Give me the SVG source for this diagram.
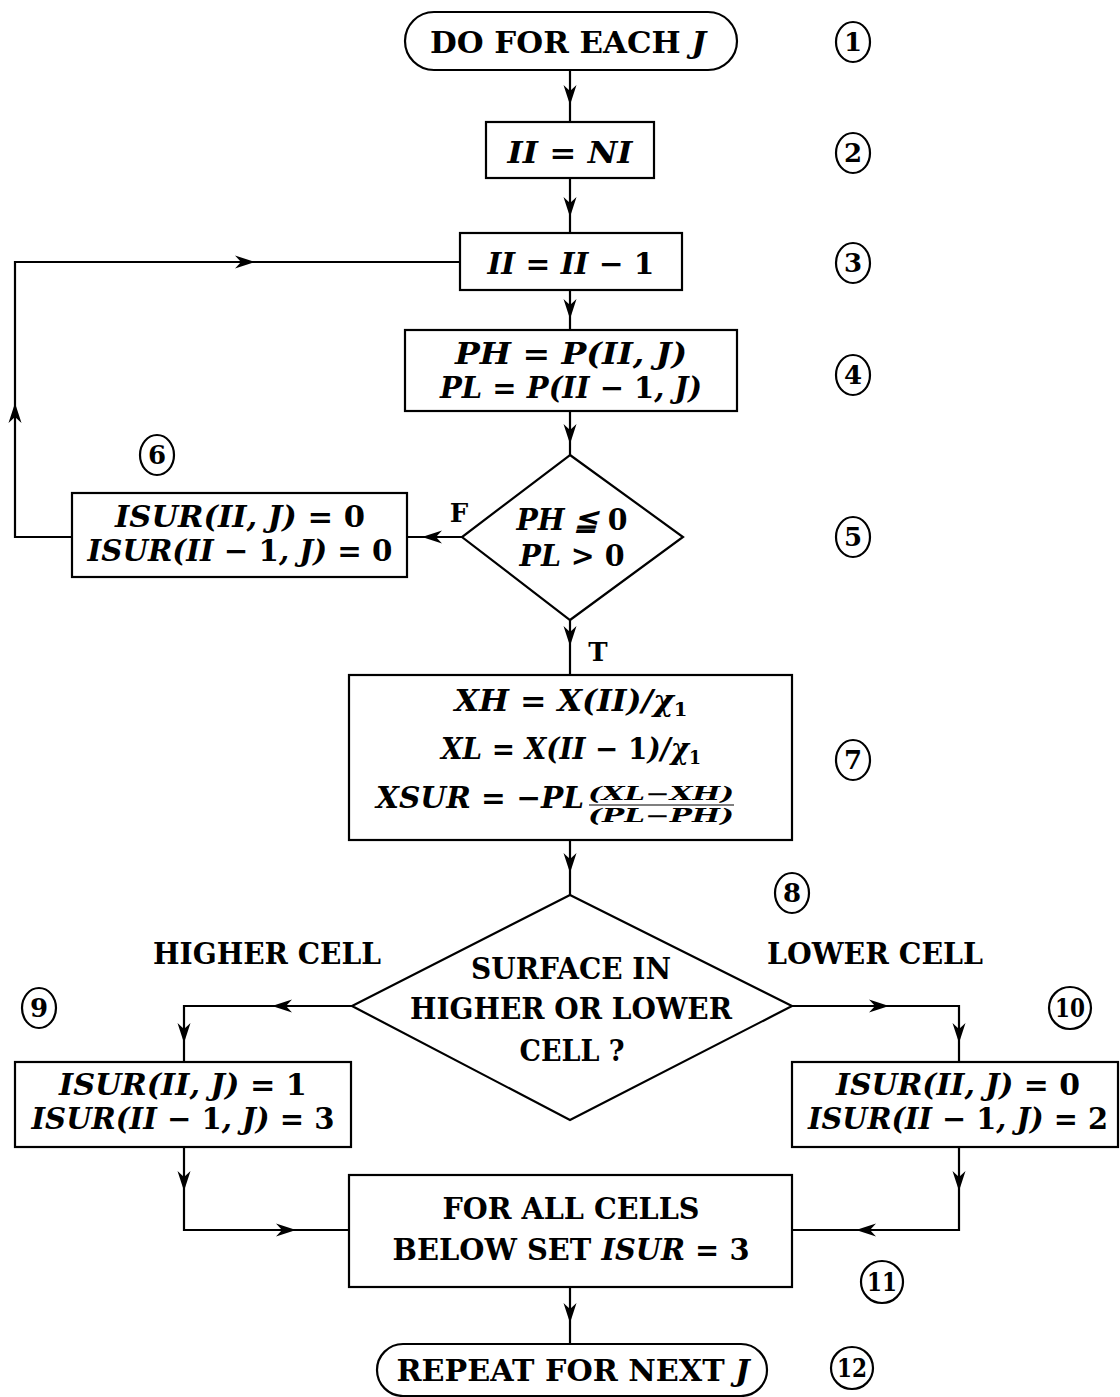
<svg xmlns="http://www.w3.org/2000/svg" width="1120" height="1397" viewBox="0 0 1120 1397">
<style>
.box{fill:#fff;stroke:#000;stroke-width:2.2}
.ln{fill:none;stroke:#000;stroke-width:2.2}
.t{font-family:"DejaVu Serif","Liberation Serif",serif;font-weight:bold;font-size:29px;text-anchor:middle;fill:#000}
.i{font-style:italic}
.u{font-style:normal}
.sm{font-size:18px}
.n ellipse{fill:none;stroke:#000;stroke-width:2.2}
.n text{font-family:"DejaVu Serif","Liberation Serif",serif;font-weight:bold;font-size:26px;text-anchor:middle}
</style>
<defs>
<path id="ah" d="M0,0 L-20,-6.5 L-14,0 L-20,6.5 Z" fill="#000"/>
</defs>
<g id="connectors">
<path class="ln" d="M570,70 V122"/>
<use href="#ah" transform="translate(570,105) rotate(90)"/>
<path class="ln" d="M570,178 V233"/>
<use href="#ah" transform="translate(570,217) rotate(90)"/>
<path class="ln" d="M570,290 V330"/>
<use href="#ah" transform="translate(570,319) rotate(90)"/>
<path class="ln" d="M570,411 V455"/>
<use href="#ah" transform="translate(570,444) rotate(90)"/>
<path class="ln" d="M462,537 H407"/>
<use href="#ah" transform="translate(422,537) rotate(180)"/>
<path class="ln" d="M72,537 H15 V262 H460"/>
<use href="#ah" transform="translate(15,403) rotate(-90)"/>
<use href="#ah" transform="translate(255,262)"/>
<path class="ln" d="M570,620 V675"/>
<use href="#ah" transform="translate(570,646) rotate(90)"/>
<path class="ln" d="M570,840 V895"/>
<use href="#ah" transform="translate(570,873) rotate(90)"/>
<path class="ln" d="M352,1006 H184 V1062"/>
<use href="#ah" transform="translate(272,1006) rotate(180)"/>
<use href="#ah" transform="translate(184,1043) rotate(90)"/>
<path class="ln" d="M792,1006 H959 V1062"/>
<use href="#ah" transform="translate(889,1006)"/>
<use href="#ah" transform="translate(959,1043) rotate(90)"/>
<path class="ln" d="M184,1147 V1230 H349"/>
<use href="#ah" transform="translate(184,1191) rotate(90)"/>
<use href="#ah" transform="translate(296,1230)"/>
<path class="ln" d="M959,1147 V1230 H792"/>
<use href="#ah" transform="translate(959,1191) rotate(90)"/>
<use href="#ah" transform="translate(856,1230) rotate(180)"/>
<path class="ln" d="M570,1287 V1344"/>
<use href="#ah" transform="translate(570,1323) rotate(90)"/>
</g>
<g id="n1"><rect class="box" x="405" y="12" width="332" height="58" rx="29"/>
<text class="t" x="568" y="53" textLength="276" lengthAdjust="spacingAndGlyphs">DO FOR EACH <tspan class="i">J</tspan></text></g>
<g id="n2"><rect class="box" x="486" y="122" width="168" height="56"/>
<text class="t i" x="570" y="163" textLength="125" lengthAdjust="spacingAndGlyphs">II = NI</text></g>
<g id="n3"><rect class="box" x="460" y="233" width="222" height="57"/>
<text class="t i" x="571" y="274" textLength="167" lengthAdjust="spacingAndGlyphs">II = II − <tspan class="u">1</tspan></text></g>
<g id="n4"><rect class="box" x="405" y="330" width="332" height="81"/>
<text class="t i" x="571" y="364" textLength="232" lengthAdjust="spacingAndGlyphs">PH = P(II, J)</text>
<text class="t i" x="571" y="398" textLength="262" lengthAdjust="spacingAndGlyphs">PL = P(II − <tspan class="u">1</tspan>, J)</text></g>
<g id="n5"><path class="box" d="M570,455 L683,537 L570,620 L462,537 Z"/>
<text class="t i" x="572" y="530" textLength="111" lengthAdjust="spacingAndGlyphs">PH ≦ <tspan class="u">0</tspan></text>
<text class="t i" x="572" y="566" textLength="105" lengthAdjust="spacingAndGlyphs">PL &gt; <tspan class="u">0</tspan></text>
<text class="t" x="459" y="522" style="font-size:26px">F</text>
<text class="t" x="598" y="661" style="font-size:26px">T</text></g>
<g id="n6"><rect class="box" x="72" y="493" width="335" height="84"/>
<text class="t i" x="240" y="527" textLength="250" lengthAdjust="spacingAndGlyphs">ISUR(II, J) = <tspan class="u">0</tspan></text>
<text class="t i" x="240" y="561" textLength="305" lengthAdjust="spacingAndGlyphs">ISUR(II − <tspan class="u">1</tspan>, J) = <tspan class="u">0</tspan></text></g>
<g id="n7"><rect class="box" x="349" y="675" width="443" height="165"/>
<text class="t i" x="571" y="711" textLength="233" lengthAdjust="spacingAndGlyphs">XH = X(II)/χ<tspan class="u sm" dy="5">1</tspan></text>
<text class="t i" x="571" y="759" textLength="260" lengthAdjust="spacingAndGlyphs">XL = X(II − <tspan class="u">1</tspan>)/χ<tspan class="u sm" dy="5">1</tspan></text>
<text class="t i" x="376" y="808" style="text-anchor:start" textLength="208" lengthAdjust="spacingAndGlyphs">XSUR = −PL</text>
<text class="t i sm" x="661" y="800" textLength="146" lengthAdjust="spacingAndGlyphs">(XL−XH)</text>
<line x1="589" y1="805" x2="734" y2="805" stroke="#000" stroke-width="1.2"/>
<text class="t i sm" x="661" y="822" textLength="146" lengthAdjust="spacingAndGlyphs">(PL−PH)</text></g>
<g id="n8"><path class="box" d="M570,895 L792,1006 L570,1120 L352,1006 Z"/>
<text class="t" x="571" y="979" textLength="200" lengthAdjust="spacingAndGlyphs">SURFACE IN</text>
<text class="t" x="571" y="1019" textLength="322" lengthAdjust="spacingAndGlyphs">HIGHER OR LOWER</text>
<text class="t" x="572" y="1061" textLength="105" lengthAdjust="spacingAndGlyphs">CELL ?</text>
<text class="t" x="267" y="964" textLength="228" lengthAdjust="spacingAndGlyphs">HIGHER CELL</text>
<text class="t" x="875" y="964" textLength="216" lengthAdjust="spacingAndGlyphs">LOWER CELL</text></g>
<g id="n9"><rect class="box" x="15" y="1062" width="336" height="85"/>
<text class="t i" x="183" y="1095" textLength="248" lengthAdjust="spacingAndGlyphs">ISUR(II, J) = <tspan class="u">1</tspan></text>
<text class="t i" x="183" y="1129" textLength="303" lengthAdjust="spacingAndGlyphs">ISUR(II − <tspan class="u">1</tspan>, J) = <tspan class="u">3</tspan></text></g>
<g id="n10"><rect class="box" x="792" y="1062" width="326" height="85"/>
<text class="t i" x="958" y="1095" textLength="244" lengthAdjust="spacingAndGlyphs">ISUR(II, J) = <tspan class="u">0</tspan></text>
<text class="t i" x="958" y="1129" textLength="300" lengthAdjust="spacingAndGlyphs">ISUR(II − <tspan class="u">1</tspan>, J) = <tspan class="u">2</tspan></text></g>
<g id="n11"><rect class="box" x="349" y="1175" width="443" height="112"/>
<text class="t" x="571" y="1219" textLength="257" lengthAdjust="spacingAndGlyphs">FOR ALL CELLS</text>
<text class="t" x="571" y="1260" textLength="357" lengthAdjust="spacingAndGlyphs">BELOW SET <tspan class="i">ISUR</tspan> = 3</text></g>
<g id="n12"><rect class="box" x="377" y="1344" width="390" height="52" rx="26"/>
<text class="t" x="573" y="1381" textLength="353" lengthAdjust="spacingAndGlyphs">REPEAT FOR NEXT <tspan class="i">J</tspan></text></g>
<g id="labels" class="n">
<g id="c1"><ellipse cx="853" cy="42" rx="17" ry="20"/><text x="853" y="51">1</text></g>
<g id="c2"><ellipse cx="853" cy="153" rx="17" ry="20"/><text x="853" y="162">2</text></g>
<g id="c3"><ellipse cx="853" cy="263" rx="17" ry="20"/><text x="853" y="272">3</text></g>
<g id="c4"><ellipse cx="853" cy="375" rx="17" ry="20"/><text x="853" y="384">4</text></g>
<g id="c5"><ellipse cx="853" cy="537" rx="17" ry="20"/><text x="853" y="546">5</text></g>
<g id="c6"><ellipse cx="157" cy="455" rx="17" ry="20"/><text x="157" y="464">6</text></g>
<g id="c7"><ellipse cx="853" cy="760" rx="17" ry="20"/><text x="853" y="769">7</text></g>
<g id="c8"><ellipse cx="792" cy="893" rx="17" ry="20"/><text x="792" y="902">8</text></g>
<g id="c9"><ellipse cx="39" cy="1008" rx="17" ry="20"/><text x="39" y="1017">9</text></g>
<g id="c10"><ellipse cx="1070" cy="1008" rx="21" ry="21"/><text x="1070" y="1017" textLength="30" lengthAdjust="spacingAndGlyphs">10</text></g>
<g id="c11"><ellipse cx="882" cy="1282" rx="21" ry="21"/><text x="882" y="1291" textLength="30" lengthAdjust="spacingAndGlyphs">11</text></g>
<g id="c12"><ellipse cx="852" cy="1368" rx="21" ry="21"/><text x="852" y="1377" textLength="30" lengthAdjust="spacingAndGlyphs">12</text></g>
</g>
</svg>
